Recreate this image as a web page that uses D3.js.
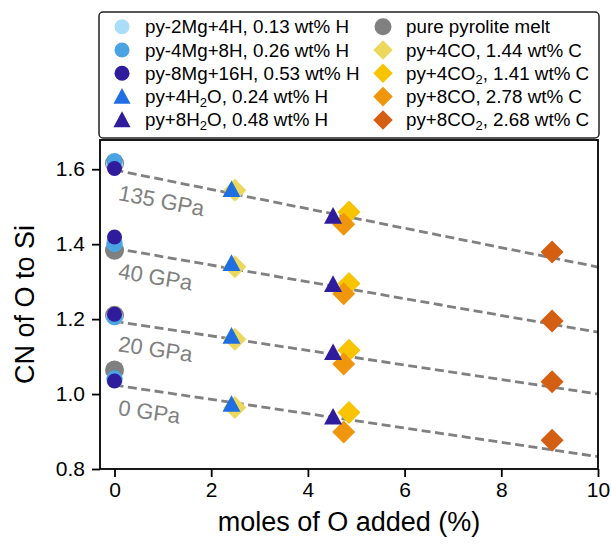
<!DOCTYPE html>
<html>
<head>
<meta charset="utf-8">
<script src="https://cdn.jsdelivr.net/npm/d3@7"></script>
<style>
  body { margin: 0; background: #fff; }
  svg { font-family: "Liberation Sans", Arial, sans-serif; }
</style>
</head>
<body>
<svg id="chart" width="611" height="544"></svg>
<script>
/* DATA */
let pressures = ['135 GPa', '40 GPa', '20 GPa', '0 GPa'];
let fitStart = [1.598, 1.389, 1.194, 1.024];   // dashed trend at x = 0
let fitEnd = [1.339, 1.165, 1.000, 0.833];     // dashed trend at x = 10
let xTicks = [0, 2, 4, 6, 8, 10];
let yTicks = [0.8, 1.0, 1.2, 1.4, 1.6];

let seriesNames = ['pure', 'co4', 'co2_4', 'co8', 'co2_8', 'h4', 'h8', 'h16', 'w4', 'w8'];
let xAdded = {
  pure: 0, h4: 0, h8: 0, h16: 0,
  w4: 2.42, co4: 2.49,
  w8: 4.52, co2_4: 4.85, co8: 4.74,
  co2_8: 9.05
};
let cnPure  = [1.616, 1.384, 1.210, 1.064];
let cnH4    = [1.614, 1.403, 1.206, 1.038];
let cnH8    = [1.622, 1.400, 1.205, 1.042];
let cnH16   = [1.602, 1.419, 1.213, 1.035];
let cnW4    = [1.546, 1.349, 1.155, 0.973];
let cnW8    = [1.475, 1.293, 1.111, 0.939];
let cnCO4   = [1.544, 1.340, 1.146, 0.964];
let cnCO2_4 = [1.486, 1.295, 1.117, 0.951];
let cnCO8   = [1.453, 1.268, 1.080, 0.899];
let cnCO2_8 = [1.379, 1.195, 1.033, 0.877];

let values = {
  pure: cnPure, h4: cnH4, h8: cnH8, h16: cnH16, w4: cnW4, w8: cnW8,
  co4: cnCO4, co2_4: cnCO2_4, co8: cnCO8, co2_8: cnCO2_8
};

/* STYLES */
let style = {
  pure:  { shape: 'circle',   color: '#808080', size: 9.5 },
  h4:    { shape: 'circle',   color: '#a9def6', size: 8.5 },
  h8:    { shape: 'circle',   color: '#4aa3e2', size: 8 },
  h16:   { shape: 'circle',   color: '#2f1c9c', size: 7.5 },
  w4:    { shape: 'triangle', color: '#1f6fe3', size: 9 },
  w8:    { shape: 'triangle', color: '#2f1c9c', size: 9 },
  co4:   { shape: 'diamond',  color: '#ecd85c', size: 11.5 },
  co2_4: { shape: 'diamond',  color: '#f8c300', size: 11.5 },
  co8:   { shape: 'diamond',  color: '#f0960c', size: 11.5 },
  co2_8: { shape: 'diamond',  color: '#d45e12', size: 11.5 }
};

let legendRows = [
  ['h4',  ['py-2Mg+4H, 0.13 wt% H']],
  ['h8',  ['py-4Mg+8H, 0.26 wt% H']],
  ['h16', ['py-8Mg+16H, 0.53 wt% H']],
  ['w4',  ['py+4H', '2', 'O, 0.24 wt% H']],
  ['w8',  ['py+8H', '2', 'O, 0.48 wt% H']],
  ['pure',  ['pure pyrolite melt']],
  ['co4',   ['py+4CO, 1.44 wt% C']],
  ['co2_4', ['py+4CO', '2', ', 1.41 wt% C']],
  ['co8',   ['py+8CO, 2.78 wt% C']],
  ['co2_8', ['py+8CO', '2', ', 2.68 wt% C']]
];

/* SETUP */
let svg = d3.select('#chart');
let pLeft = 100, pRight = 598, pTop = 140, pBottom = 469;

let x = d3.scaleLinear().domain([-0.3, 10]).range([pLeft, pRight]);
let y = d3.scaleLinear().domain([0.8, 1.678]).range([pBottom, pTop]);

function markerPath(shape, s) {
  if (shape == 'circle') {
    return 'M' + (-s) + ',0A' + s + ',' + s + ' 0 1,0 ' + s + ',0A' + s + ',' + s + ' 0 1,0 ' + (-s) + ',0Z';
  }
  if (shape == 'triangle') {
    return 'M0,' + (-s) + 'L' + s + ',' + (s * 0.85) + 'L' + (-s) + ',' + (s * 0.85) + 'Z';
  }
  return 'M0,' + (-s) + 'L' + s + ',0L0,' + s + 'L' + (-s) + ',0Z';
}

/* AXES */
let xAxis = d3.axisBottom(x).tickValues(xTicks).tickSize(8).tickPadding(5).tickFormat(d3.format('d'));
let yAxis = d3.axisLeft(y).tickValues(yTicks).tickSize(8).tickPadding(7).tickFormat(d3.format('.1f'));

let gx = svg.append('g').attr('transform', 'translate(0,' + pBottom + ')').call(xAxis);
let gy = svg.append('g').attr('transform', 'translate(' + pLeft + ',0)').call(yAxis);
[gx, gy].forEach(function(g) {
  g.select('.domain').remove();
  g.selectAll('line').attr('stroke', '#000').attr('stroke-width', 1.8);
  g.selectAll('text').attr('font-size', 21).attr('fill', '#000')
    .attr('font-family', '"Liberation Sans", Arial, sans-serif');
});

svg.append('text')
  .attr('x', (pLeft + pRight) / 2).attr('y', 531)
  .attr('text-anchor', 'middle').attr('font-size', 27)
  .text('moles of O added (%)');

svg.append('text')
  .attr('transform', 'translate(34,' + ((pTop + pBottom) / 2) + ') rotate(-90)')
  .attr('text-anchor', 'middle').attr('font-size', 27)
  .text('CN of O to Si');

/* DASHED TRENDS */
let plot = svg.append('g');
pressures.forEach(function(p, i) {
  plot.append('line')
    .attr('x1', x(0)).attr('y1', y(fitStart[i]))
    .attr('x2', x(10)).attr('y2', y(fitEnd[i]))
    .attr('stroke', '#808080').attr('stroke-width', 2.8)
    .attr('stroke-dasharray', '9,4.5');

  let angle = Math.atan2(y(fitEnd[i]) - y(fitStart[i]), x(10) - x(0)) * 180 / Math.PI;
  let lx = x(0.06), ly = y(fitStart[i]) + 30;
  plot.append('text')
    .attr('transform', 'translate(' + lx + ',' + ly + ') rotate(' + (angle * 0.95) + ')')
    .attr('font-size', 22).attr('fill', '#808080')
    .text(p);
});

/* MARKERS */
seriesNames.forEach(function(name) {
  let st = style[name];
  plot.selectAll('.m-' + name)
    .data(values[name])
    .enter().append('path')
    .attr('class', 'm-' + name)
    .attr('d', markerPath(st.shape, st.size))
    .attr('transform', function(d) { return 'translate(' + x(xAdded[name]) + ',' + y(d) + ')'; })
    .attr('fill', st.color);
});

/* FRAME */
svg.append('rect')
  .attr('x', pLeft).attr('y', pTop)
  .attr('width', pRight - pLeft).attr('height', pBottom - pTop)
  .attr('fill', 'none').attr('stroke', '#000').attr('stroke-width', 1.8);

/* LEGEND */
let legend = svg.append('g');
legend.append('rect')
  .attr('x', 99).attr('y', 12).attr('width', 500).attr('height', 126)
  .attr('rx', 4).attr('fill', '#fff')
  .attr('stroke', '#222').attr('stroke-width', 1.5);

let legendScale = { circle: 0.9, triangle: 0.95, diamond: 0.85 };
legendRows.forEach(function(row, i) {
  let col = Math.floor(i / 5), r = i % 5;
  let cy = 26.7 + r * 23.3;
  let mx = col == 0 ? 122 : 383;
  let tx = col == 0 ? 145 : 406;
  let st = style[row[0]];
  let s = st.shape == 'circle' ? (row[0] == 'pure' ? 8.5 : 7.5) : st.size * legendScale[st.shape];
  legend.append('path')
    .attr('d', markerPath(st.shape, s))
    .attr('transform', 'translate(' + mx + ',' + cy + ')')
    .attr('fill', st.color);

  let t = legend.append('text').attr('x', tx).attr('y', cy + 6.5).attr('font-size', 18.8);
  row[1].forEach(function(part, k) {
    if (k == 1) {
      t.append('tspan').attr('dy', 4).attr('font-size', 13).text(part);
    } else if (k == 2) {
      t.append('tspan').attr('dy', -4).text(part);
    } else {
      t.append('tspan').text(part);
    }
  });
});
</script>
</body>
</html>
